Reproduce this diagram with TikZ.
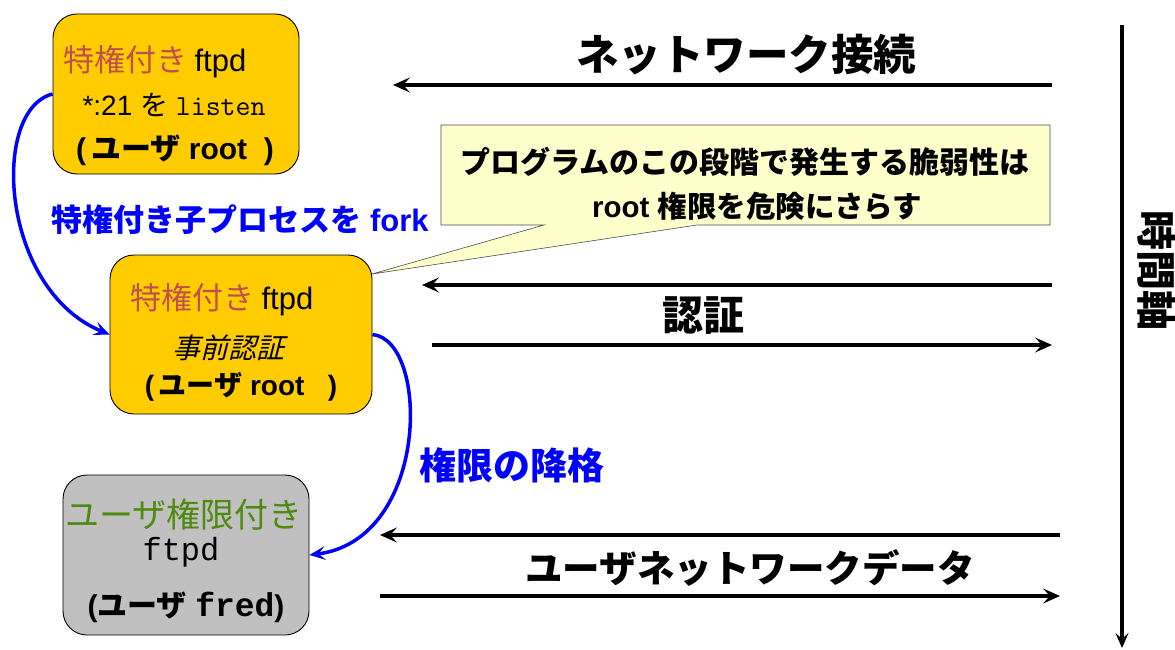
\documentclass[tikz,border=0pt]{standalone}
\usepackage{fontspec}
\setmainfont{Liberation Sans}
\newfontfamily\jp{Noto Sans CJK JP}
\newfontfamily\jpit{Noto Sans CJK JP}[FakeSlant=0.25]
\newfontfamily\cour{Liberation Mono}
\usetikzlibrary{arrows.meta}
\definecolor{gold}{HTML}{FFCC00}
\definecolor{boxgray}{HTML}{C0C0C0}
\definecolor{calloutfill}{HTML}{FFFFCC}
\definecolor{privred}{HTML}{C0504D}
\definecolor{usergreen}{HTML}{4E8A12}
\newcommand\fsz[1]{\fontsize{#1}{#1}\selectfont}
\tikzset{
  procbox/.style={draw=black, line width=0.9pt, rounded corners=24pt, inner sep=0pt},
  txt/.style={inner sep=0pt, anchor=center},
  flow/.style={line width=4pt, -{Stealth[length=17pt,width=15pt,inset=7pt]}},
  blueflow/.style={blue, line width=3.5pt, -{Stealth[length=16pt,width=14pt,inset=7pt]}},
}
\begin{document}
\begin{tikzpicture}[x=1pt,y=-1pt]
\useasboundingbox (0,0) rectangle (1175,650);
% process boxes
\node[procbox, fill=gold, minimum width=246pt, minimum height=160pt] (b1) at (176,94) {};
\node[procbox, fill=gold, minimum width=262pt, minimum height=159pt] (b2) at (241,334.5) {};
\node[procbox, fill=boxgray, minimum width=246pt, minimum height=160pt] (b3) at (186,555) {};
% box 1 text
\node[txt] (b1l1) at (155,62) {\fsz{31}\jp\color{privred}特権付き\color{black}\ \fsz{31}\rmfamily ftpd};
\node[txt] (b1l2) at (174,105) {\fsz{28}*:21 {\jp を} \fsz{29}\ttfamily listen};
\node[txt] (b1l3) at (175,150) {\fsz{30}\bfseries (\,{\jp ユーザ} root\ \ )};
% box 2 text
\node[txt] (b2l1) at (222,300) {\fsz{31}\jp\color{privred}特権付き\color{black}\ \fsz{31}\rmfamily ftpd};
\node[txt] (b2l2) at (228,348) {\fsz{28}\jpit 事前認証};
\node[txt] (b2l3) at (241,387) {\fsz{28}\bfseries (\,{\jp ユーザ} root\ \ \ )};
% box 3 text
\node[txt] (b3l1) at (184,515) {\fsz{34}\jp\color{usergreen}ユーザ権限付き};
\node[txt] (b3l2) at (181,552) {\fsz{32}\cour ftpd};
\node[txt] (b3l3) at (186,607) {\fsz{30}\bfseries ({\jp ユーザ} {\fsz{33}\cour fred})};
% callout
\coordinate (ctip) at (372,274);
\draw[line width=0.6pt, draw=black!70, fill=calloutfill]
  (441,125) -- (1050,125) -- (1050,225) -- (697,225) -- (ctip) -- (544,225) -- (441,225) -- cycle;
\node[txt] (c1) at (745,162) {\fsz{30}\bfseries\jp プログラムのこの段階で発生する脆弱性は};
\node[txt] (c2) at (757,206) {\fsz{29.5}\bfseries root {\jp 権限を危険にさらす}};
% message arrows
\coordinate (a1s) at (1052,85);  \coordinate (a1e) at (393,85);
\coordinate (a2s) at (1052,285); \coordinate (a2e) at (422,285);
\coordinate (a3s) at (432,345);  \coordinate (a3e) at (1052,345);
\coordinate (a4s) at (1060,535); \coordinate (a4e) at (380,535);
\coordinate (a5s) at (380,596);  \coordinate (a5e) at (1060,596);
\draw[flow] (a1s) -- (a1e);
\draw[flow] (a2s) -- (a2e);
\draw[flow] (a3s) -- (a3e);
\draw[flow] (a4s) -- (a4e);
\draw[flow] (a5s) -- (a5e);
\node[txt] (l1) at (746,55) {\fsz{42.5}\bfseries\jp ネットワーク接続};
\node[txt] (l2) at (703,316) {\fsz{41}\bfseries\jp 認証};
\node[txt] (l3) at (750,568) {\fsz{37.5}\bfseries\jp ユーザネットワークデータ};
% time axis
\coordinate (t1) at (1122,25); \coordinate (t2) at (1122,648);
\draw[line width=4pt, -{Stealth[length=15pt,width=13pt,inset=6pt]}] (t1) -- (t2);
\node[txt, rotate=-90] (tl) at (1157,270) {\fsz{40}\bfseries\jp 時間軸};
% blue curves
\draw[blueflow] (b1.west) .. controls (-10,110) and (0,290) .. (b2.west);
\draw[blueflow] (b2.east) .. controls (430,340) and (430,540) .. (b3.east);
\node[txt, text=blue] (f1) at (240,220) {\fsz{31}\bfseries{\jp 特権付き子プロセスを} fork};
\node[txt, text=blue] (f2) at (512,465) {\fsz{37}\bfseries\jp 権限の降格};
\end{tikzpicture}
\end{document}
